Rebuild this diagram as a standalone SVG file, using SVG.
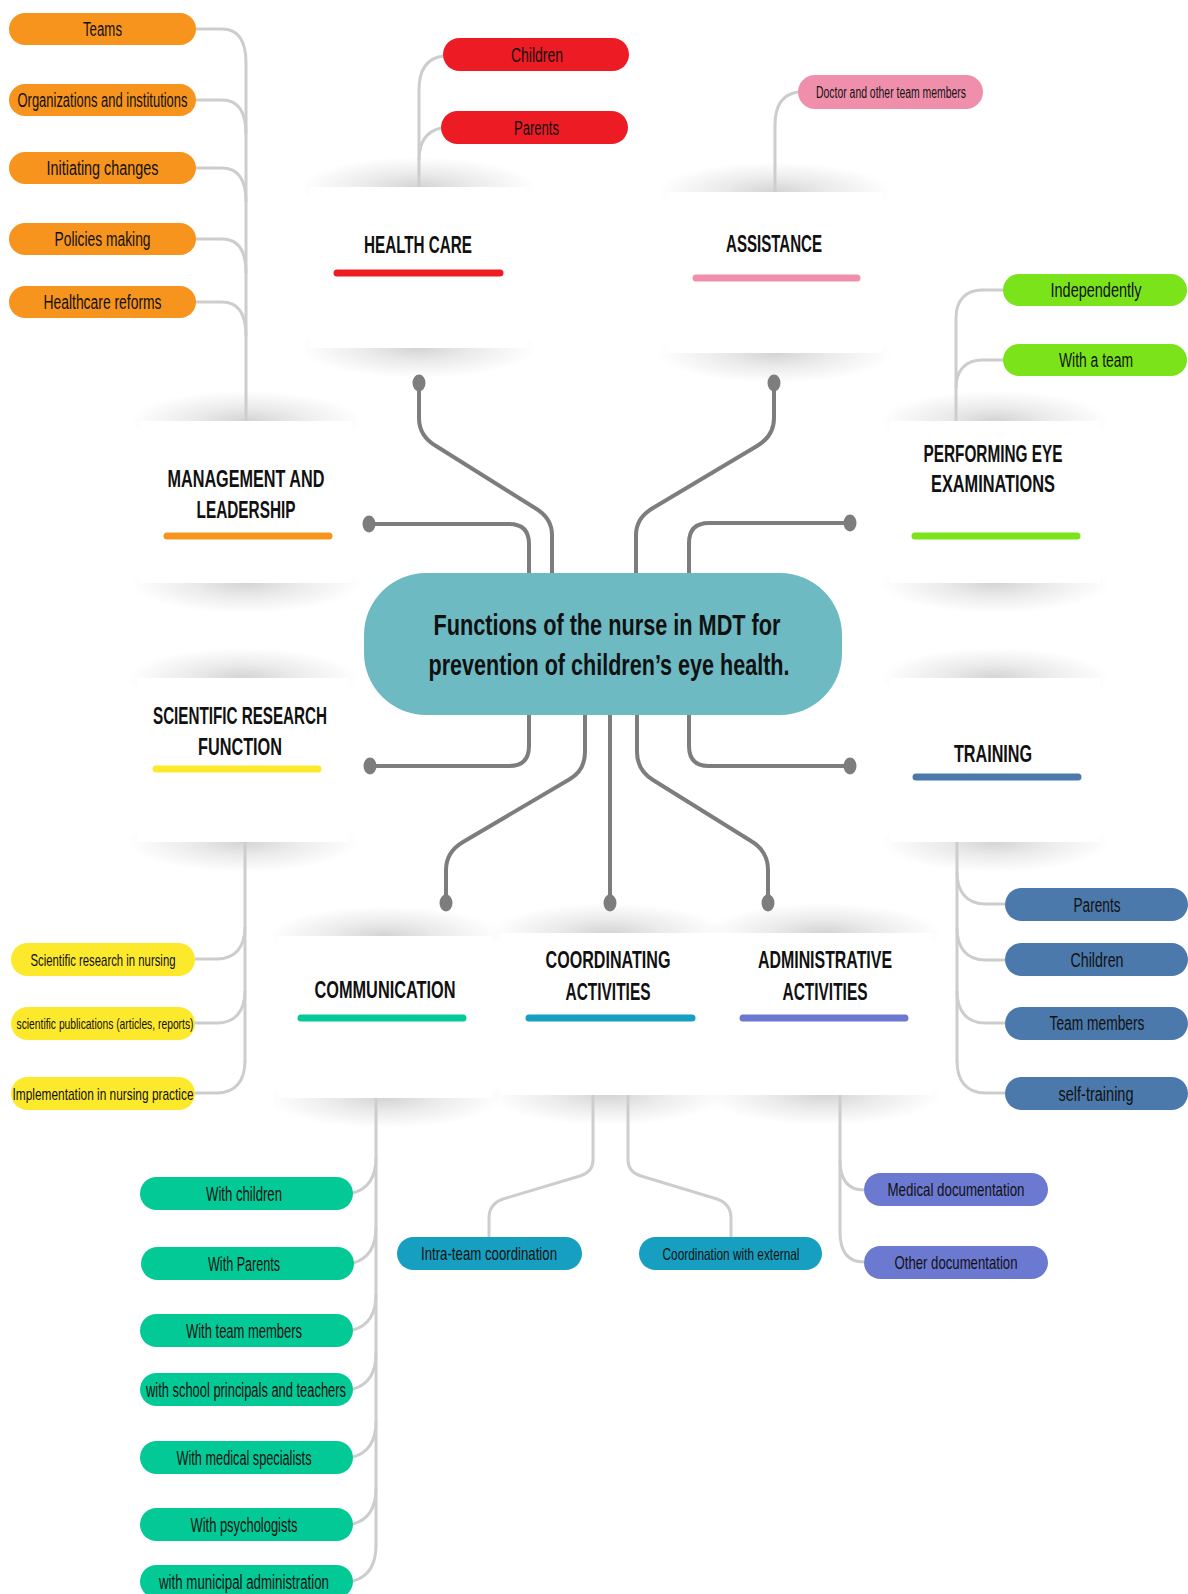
<svg xmlns="http://www.w3.org/2000/svg" width="1188" height="1594" viewBox="0 0 1188 1594">
  <defs>
    <!-- lens-shaped shade cast at the top and bottom edge of each card -->
    <radialGradient id="shadeGrad" cx="0.5" cy="0.5" r="0.5">
      <stop offset="0" stop-color="#000" stop-opacity="0.17"/>
      <stop offset="0.45" stop-color="#000" stop-opacity="0.08"/>
      <stop offset="1" stop-color="#000" stop-opacity="0"/>
    </radialGradient>
  </defs>
  <style>
    text { font-family: "Liberation Sans Narrow", "Liberation Sans", Arial, sans-serif; fill: #111; text-anchor: middle; }
    .ttl { font-size: 24px; font-weight: bold; }
    .hub-t { font-size: 29px; font-weight: bold; }
    .pt { font-size: 20px; }
    .shade { fill: url(#shadeGrad); }
    .card { fill: #fff; }
    .bar { stroke-width: 7; stroke-linecap: round; fill: none; }
    .main { fill: none; stroke: #7d7d7d; stroke-width: 4; stroke-linejoin: round; }
    .dot { fill: #7d7d7d; }
    .sub { fill: none; stroke: #cdcdcd; stroke-width: 3; }
    .orange { fill: #f7941d; } .red { fill: #ed1c24; } .pink { fill: #f08fab; }
    .green { fill: #7ae31a; } .yellow { fill: #fde92b; } .steel { fill: #4b79ab; }
    .teal { fill: #03c996; } .cyan { fill: #169fc0; } .violet { fill: #6c79d1; }
  </style>

  <!-- card shades: each rect is centred on a card edge, the card hides the inner half -->
  <g id="shadows">
    <rect class="shade" x="300" y="157" width="237" height="60"/>
    <rect class="shade" x="300" y="318" width="237" height="60"/>
    <rect class="shade" x="657" y="162" width="236" height="60"/>
    <rect class="shade" x="657" y="323" width="236" height="60"/>
    <rect class="shade" x="130" y="391" width="232" height="60"/>
    <rect class="shade" x="130" y="553" width="232" height="60"/>
    <rect class="shade" x="127" y="648" width="232" height="60"/>
    <rect class="shade" x="127" y="812" width="232" height="60"/>
    <rect class="shade" x="880" y="391" width="230" height="60"/>
    <rect class="shade" x="880" y="553" width="230" height="60"/>
    <rect class="shade" x="880" y="648" width="230" height="60"/>
    <rect class="shade" x="880" y="812" width="230" height="60"/>
    <rect class="shade" x="268" y="906" width="234" height="60"/>
    <rect class="shade" x="268" y="1068" width="234" height="60"/>
    <rect class="shade" x="490" y="903" width="236" height="60"/>
    <rect class="shade" x="490" y="1065" width="236" height="60"/>
    <rect class="shade" x="706" y="903" width="236" height="60"/>
    <rect class="shade" x="706" y="1065" width="236" height="60"/>
  </g>

  <!-- connectors -->
  <g id="connectors">
    <!-- hub to cards -->
    <path class="main" d="M529,573 V544 Q529,524 509,524 H369"/>
    <path class="main" d="M552,573 V535 Q552,518 535,508 L436,446 Q419,436 419,418 V383"/>
    <path class="main" d="M636,573 V535 Q636,518 653,508 L757,446 Q774,436 774,418 V383"/>
    <path class="main" d="M689,573 V543 Q689,523 709,523 H850"/>
    <path class="main" d="M529,714 V746 Q529,766 509,766 H370"/>
    <path class="main" d="M585,714 V752 Q585,770 570,779 L463,842 Q446,852 446,870 V903"/>
    <path class="main" d="M610,714 V903"/>
    <path class="main" d="M637,714 V752 Q637,770 653,780 L751,841 Q768,851 768,870 V903"/>
    <path class="main" d="M689,714 V746 Q689,766 709,766 H850"/>
    <ellipse class="dot" cx="369" cy="524" rx="6.5" ry="8.5"/>
    <ellipse class="dot" cx="419" cy="383" rx="6.5" ry="8.5"/>
    <ellipse class="dot" cx="774" cy="383" rx="6.5" ry="8.5"/>
    <ellipse class="dot" cx="850" cy="523" rx="6.5" ry="8.5"/>
    <ellipse class="dot" cx="370" cy="766" rx="6.5" ry="8.5"/>
    <ellipse class="dot" cx="446" cy="903" rx="6.5" ry="8.5"/>
    <ellipse class="dot" cx="610" cy="903" rx="6.5" ry="8.5"/>
    <ellipse class="dot" cx="768" cy="903" rx="6.5" ry="8.5"/>
    <ellipse class="dot" cx="850" cy="766" rx="6.5" ry="8.5"/>

    <!-- management branches -->
    <path class="sub" d="M246,63 V421"/>
    <path class="sub" d="M196,29 H222 C238,29 246,41 246,63"/>
    <path class="sub" d="M196,100 H222 C238,100 246,112 246,134"/>
    <path class="sub" d="M196,168 H222 C238,168 246,180 246,202"/>
    <path class="sub" d="M196,239 H222 C238,239 246,251 246,273"/>
    <path class="sub" d="M196,302 H222 C238,302 246,314 246,336"/>

    <!-- health care branches -->
    <path class="sub" d="M443,56 C428,58 419,68 419,90 V187"/>
    <path class="sub" d="M441,128 C428,131 419,141 419,160"/>

    <!-- assistance branch -->
    <path class="sub" d="M798,92 C784,94 775,104 775,125 V192"/>

    <!-- eye examination branches -->
    <path class="sub" d="M1003,290 H982 C966,290 956,300 956,318 V421"/>
    <path class="sub" d="M1003,360 H982 C966,360 956,370 956,388"/>

    <!-- training branches -->
    <path class="sub" d="M957,842 V1062"/>
    <path class="sub" d="M957,872 C957,892 967,904 985,904 H1005"/>
    <path class="sub" d="M957,928 C957,948 967,960 985,960 H1005"/>
    <path class="sub" d="M957,991 C957,1011 967,1023 985,1023 H1005"/>
    <path class="sub" d="M957,1061 C957,1081 967,1093 985,1093 H1005"/>

    <!-- scientific research branches -->
    <path class="sub" d="M245,842 V1062"/>
    <path class="sub" d="M245,927 C245,947 235,959 217,959 H195"/>
    <path class="sub" d="M245,991 C245,1011 235,1023 217,1023 H195"/>
    <path class="sub" d="M245,1061 C245,1081 235,1093 217,1093 H195"/>

    <!-- communication branches -->
    <path class="sub" d="M376,1098 V1546"/>
    <path class="sub" d="M353,1193 C368,1189 376,1177 376,1157"/>
    <path class="sub" d="M353,1263 C368,1259 376,1247 376,1227"/>
    <path class="sub" d="M353,1330 C368,1326 376,1314 376,1294"/>
    <path class="sub" d="M353,1389 C368,1385 376,1373 376,1353"/>
    <path class="sub" d="M353,1457 C368,1453 376,1441 376,1421"/>
    <path class="sub" d="M353,1524 C368,1520 376,1508 376,1488"/>
    <path class="sub" d="M353,1581 C368,1577 376,1565 376,1545"/>

    <!-- coordination branches -->
    <path class="sub" d="M593,1095 V1160 Q593,1172 580,1176 L503,1199 Q489,1204 489,1218 V1237"/>
    <path class="sub" d="M628,1095 V1160 Q628,1172 641,1176 L717,1199 Q731,1204 731,1218 V1237"/>

    <!-- administrative branches -->
    <path class="sub" d="M840,1095 V1232 C840,1252 848,1262 864,1262"/>
    <path class="sub" d="M840,1160 C840,1180 848,1190 864,1190"/>
  </g>

  <!-- central topic -->
  <g id="hub">
    <rect x="364" y="573" width="478" height="142" rx="62" fill="#6dbac3"/>
    <text class="hub-t" x="607" y="635" textLength="347" lengthAdjust="spacingAndGlyphs">Functions of the nurse in MDT for</text>
    <text class="hub-t" x="609" y="675" textLength="361" lengthAdjust="spacingAndGlyphs">prevention of children’s eye health.</text>
  </g>

  <!-- function cards -->
  <g id="card-health-care">
    <rect class="card" x="310" y="187" width="217" height="161"/>
    <text class="ttl" x="418" y="253" textLength="108" lengthAdjust="spacingAndGlyphs">HEALTH CARE</text>
    <line class="bar" x1="337" y1="273" x2="500" y2="273" stroke="#ed1c24"/>
  </g>
  <g id="card-assistance">
    <rect class="card" x="667" y="192" width="216" height="161"/>
    <text class="ttl" x="774" y="252" textLength="96" lengthAdjust="spacingAndGlyphs">ASSISTANCE</text>
    <line class="bar" x1="696" y1="278" x2="857" y2="278" stroke="#f08fab"/>
  </g>
  <g id="card-management">
    <rect class="card" x="140" y="421" width="212" height="162"/>
    <text class="ttl" x="246" y="487" textLength="157" lengthAdjust="spacingAndGlyphs">MANAGEMENT AND</text>
    <text class="ttl" x="246" y="518" textLength="99" lengthAdjust="spacingAndGlyphs">LEADERSHIP</text>
    <line class="bar" x1="167" y1="536" x2="329" y2="536" stroke="#f7941d"/>
  </g>
  <g id="card-scientific-research">
    <rect class="card" x="137" y="678" width="212" height="164"/>
    <text class="ttl" x="240" y="724" textLength="174" lengthAdjust="spacingAndGlyphs">SCIENTIFIC RESEARCH</text>
    <text class="ttl" x="240" y="755" textLength="84" lengthAdjust="spacingAndGlyphs">FUNCTION</text>
    <line class="bar" x1="156" y1="769" x2="318" y2="769" stroke="#fde92b"/>
  </g>
  <g id="card-eye-examinations">
    <rect class="card" x="890" y="421" width="210" height="162"/>
    <text class="ttl" x="993" y="462" textLength="139" lengthAdjust="spacingAndGlyphs">PERFORMING EYE</text>
    <text class="ttl" x="993" y="492" textLength="124" lengthAdjust="spacingAndGlyphs">EXAMINATIONS</text>
    <line class="bar" x1="915" y1="536" x2="1077" y2="536" stroke="#7ae31a"/>
  </g>
  <g id="card-training">
    <rect class="card" x="890" y="678" width="210" height="164"/>
    <text class="ttl" x="993" y="762" textLength="78" lengthAdjust="spacingAndGlyphs">TRAINING</text>
    <line class="bar" x1="916" y1="777" x2="1078" y2="777" stroke="#4b79ab"/>
  </g>
  <g id="card-communication">
    <rect class="card" x="278" y="936" width="214" height="162"/>
    <text class="ttl" x="385" y="998" textLength="141" lengthAdjust="spacingAndGlyphs">COMMUNICATION</text>
    <line class="bar" x1="301" y1="1018" x2="463" y2="1018" stroke="#03c996"/>
  </g>
  <g id="card-coordinating">
    <rect class="card" x="500" y="933" width="216" height="162"/>
    <text class="ttl" x="608" y="968" textLength="125" lengthAdjust="spacingAndGlyphs">COORDINATING</text>
    <text class="ttl" x="608" y="1000" textLength="85" lengthAdjust="spacingAndGlyphs">ACTIVITIES</text>
    <line class="bar" x1="529" y1="1018" x2="692" y2="1018" stroke="#169fc0"/>
  </g>
  <g id="card-administrative">
    <rect class="card" x="716" y="933" width="216" height="162"/>
    <text class="ttl" x="825" y="968" textLength="134" lengthAdjust="spacingAndGlyphs">ADMINISTRATIVE</text>
    <text class="ttl" x="825" y="1000" textLength="85" lengthAdjust="spacingAndGlyphs">ACTIVITIES</text>
    <line class="bar" x1="743" y1="1018" x2="905" y2="1018" stroke="#6c79d1"/>
  </g>

  <!-- management and leadership topics -->
  <g id="pill-teams"><rect class="orange" x="9" y="13" width="187" height="32" rx="16"/><text class="pt" x="102.5" y="36" textLength="39" lengthAdjust="spacingAndGlyphs">Teams</text></g>
  <g id="pill-organizations"><rect class="orange" x="9" y="84" width="187" height="32" rx="16"/><text class="pt" x="102.5" y="107" textLength="170" lengthAdjust="spacingAndGlyphs">Organizations and institutions</text></g>
  <g id="pill-initiating-changes"><rect class="orange" x="9" y="152" width="187" height="32" rx="16"/><text class="pt" x="102.5" y="175" textLength="112" lengthAdjust="spacingAndGlyphs">Initiating changes</text></g>
  <g id="pill-policies"><rect class="orange" x="9" y="223" width="187" height="32" rx="16"/><text class="pt" x="102.5" y="246" textLength="96" lengthAdjust="spacingAndGlyphs">Policies making</text></g>
  <g id="pill-reforms"><rect class="orange" x="9" y="286" width="187" height="32" rx="16"/><text class="pt" x="102.5" y="309" textLength="118" lengthAdjust="spacingAndGlyphs">Healthcare reforms</text></g>

  <!-- health care topics -->
  <g id="pill-hc-children"><rect class="red" x="443" y="38" width="186" height="33" rx="16.5"/><text class="pt" x="537" y="61.5" textLength="52" lengthAdjust="spacingAndGlyphs">Children</text></g>
  <g id="pill-hc-parents"><rect class="red" x="441" y="111" width="187" height="33" rx="16.5"/><text class="pt" x="536.5" y="134.5" textLength="45" lengthAdjust="spacingAndGlyphs">Parents</text></g>

  <!-- assistance topic -->
  <g id="pill-doctor"><rect class="pink" x="798" y="75" width="185" height="34" rx="17"/><text class="pt" x="891" y="97.5" style="font-size:16px" textLength="150" lengthAdjust="spacingAndGlyphs">Doctor and other team members</text></g>

  <!-- eye examination topics -->
  <g id="pill-independently"><rect class="green" x="1003" y="274" width="184" height="32" rx="16"/><text class="pt" x="1096" y="297" textLength="91" lengthAdjust="spacingAndGlyphs">Independently</text></g>
  <g id="pill-with-team"><rect class="green" x="1003" y="344" width="184" height="32" rx="16"/><text class="pt" x="1096" y="367" textLength="74" lengthAdjust="spacingAndGlyphs">With a team</text></g>

  <!-- scientific research topics -->
  <g id="pill-research"><rect class="yellow" x="11" y="943" width="184" height="33" rx="16.5"/><text class="pt" x="103" y="965.5" style="font-size:17px" textLength="145" lengthAdjust="spacingAndGlyphs">Scientific research in nursing</text></g>
  <g id="pill-publications"><rect class="yellow" x="11" y="1007" width="184" height="33" rx="16.5"/><text class="pt" x="105" y="1028.5" style="font-size:15px" textLength="177" lengthAdjust="spacingAndGlyphs">scientific publications (articles, reports)</text></g>
  <g id="pill-implementation"><rect class="yellow" x="11" y="1077" width="184" height="33" rx="16.5"/><text class="pt" x="103" y="1099.5" style="font-size:17px" textLength="181" lengthAdjust="spacingAndGlyphs">Implementation in nursing practice</text></g>

  <!-- training topics -->
  <g id="pill-tr-parents"><rect class="steel" x="1005" y="888" width="183" height="33" rx="16.5"/><text class="pt" x="1097" y="911.5" textLength="47" lengthAdjust="spacingAndGlyphs">Parents</text></g>
  <g id="pill-tr-children"><rect class="steel" x="1005" y="943" width="183" height="33" rx="16.5"/><text class="pt" x="1097" y="966.5" textLength="53" lengthAdjust="spacingAndGlyphs">Children</text></g>
  <g id="pill-tr-team"><rect class="steel" x="1005" y="1007" width="183" height="33" rx="16.5"/><text class="pt" x="1097" y="1030" textLength="95" lengthAdjust="spacingAndGlyphs">Team members</text></g>
  <g id="pill-self-training"><rect class="steel" x="1005" y="1077" width="183" height="33" rx="16.5"/><text class="pt" x="1096" y="1100.5" textLength="75" lengthAdjust="spacingAndGlyphs">self-training</text></g>

  <!-- communication topics -->
  <g id="pill-com-children"><rect class="teal" x="140" y="1177" width="213" height="33" rx="16.5"/><text class="pt" x="244" y="1200.5" textLength="76" lengthAdjust="spacingAndGlyphs">With children</text></g>
  <g id="pill-com-parents"><rect class="teal" x="141" y="1247" width="213" height="33" rx="16.5"/><text class="pt" x="244" y="1270.5" textLength="72" lengthAdjust="spacingAndGlyphs">With Parents</text></g>
  <g id="pill-com-team"><rect class="teal" x="140" y="1314" width="213" height="33" rx="16.5"/><text class="pt" x="244" y="1337.5" textLength="116" lengthAdjust="spacingAndGlyphs">With team members</text></g>
  <g id="pill-com-school"><rect class="teal" x="140" y="1373" width="213" height="33" rx="16.5"/><text class="pt" x="246" y="1396.5" textLength="200" lengthAdjust="spacingAndGlyphs">with school principals and teachers</text></g>
  <g id="pill-com-specialists"><rect class="teal" x="140" y="1441" width="213" height="33" rx="16.5"/><text class="pt" x="244" y="1464.5" textLength="135" lengthAdjust="spacingAndGlyphs">With medical specialists</text></g>
  <g id="pill-com-psychologists"><rect class="teal" x="140" y="1508" width="213" height="33" rx="16.5"/><text class="pt" x="244" y="1531.5" textLength="107" lengthAdjust="spacingAndGlyphs">With psychologists</text></g>
  <g id="pill-com-municipal"><rect class="teal" x="140" y="1565" width="213" height="33" rx="16.5"/><text class="pt" x="244" y="1588.5" textLength="170" lengthAdjust="spacingAndGlyphs">with municipal administration</text></g>

  <!-- coordination topics -->
  <g id="pill-intra-team"><rect class="cyan" x="397" y="1237" width="185" height="33" rx="16.5"/><text class="pt" x="489" y="1260" style="font-size:19px" textLength="136" lengthAdjust="spacingAndGlyphs">Intra-team coordination</text></g>
  <g id="pill-external"><rect class="cyan" x="639" y="1237" width="183" height="33" rx="16.5"/><text class="pt" x="731" y="1259.5" style="font-size:17px" textLength="137" lengthAdjust="spacingAndGlyphs">Coordination with external</text></g>

  <!-- administrative topics -->
  <g id="pill-medical-docs"><rect class="violet" x="864" y="1173" width="184" height="33" rx="16.5"/><text class="pt" x="956" y="1196" style="font-size:19px" textLength="137" lengthAdjust="spacingAndGlyphs">Medical documentation</text></g>
  <g id="pill-other-docs"><rect class="violet" x="864" y="1246" width="184" height="33" rx="16.5"/><text class="pt" x="956" y="1269" style="font-size:19px" textLength="123" lengthAdjust="spacingAndGlyphs">Other documentation</text></g>
</svg>
